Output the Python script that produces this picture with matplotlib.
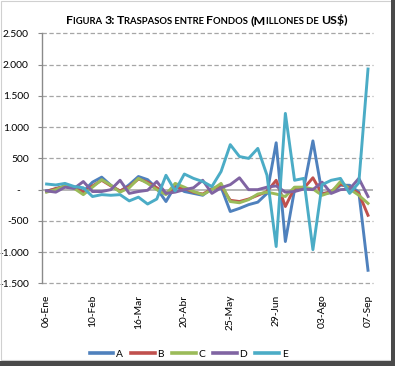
import matplotlib
matplotlib.use("Agg")
import matplotlib.pyplot as plt
from matplotlib.patches import Rectangle
from matplotlib.ticker import FuncFormatter

# ---------------- data ----------------
week_labels = ["06-Ene", "10-Feb", "16-Mar", "20-Abr", "25-May", "29-Jun", "03-Ago", "07-Sep"]
label_step = 5

series_names = ["A", "B", "C", "D", "E"]
A = [-20, 10, 60, 40, -30, 120, 200, 70, -30, 80, 210, 160, 20, -190, 60, -30, -60, -90,
     20, 40, -350, -300, -240, -200, -60, 750, -830, 0, 20, 780, -60, -50, 70, 70, -40, -1290]
B = [-30, 20, 50, 30, -40, 60, 150, 60, -20, 50, 170, 120, 30, -60, 40, 20, -40, -70,
     10, 60, -170, -190, -150, -90, -30, 150, -270, 30, 20, 190, -70, -30, 90, 30, -60, -410]
C = [-40, 0, 60, 20, -80, 40, 160, 70, -40, 30, 180, 100, 0, -80, 100, 40, -30, -80,
     0, 100, -190, -210, -160, -70, -40, -70, -110, 40, 40, 10, -90, -40, 130, 10, -90, -220]
D = [-20, -40, 40, 20, 130, -30, -30, 0, 150, -60, -30, -10, 130, -60, -40, 0, 30, 150,
     -60, 30, 80, 190, 0, 0, 40, 60, -40, -30, 10, 0, 120, -60, 0, 10, 180, -110]
E = [90, 75, 100, 50, 30, -110, -80, -90, -80, -180, -120, -230, -150, 230, -20, 250, 180, 130,
     50, 290, 720, 530, 500, 660, 230, -910, 1220, 150, 180, -960, 80, 150, 180, -60, 110, 1930]
colors = ["#4F81BD", "#C0504D", "#9BBB59", "#8064A2", "#4BACC6"]

title = "Figura 3: Traspasos entre Fondos (Millones de US$)"
y_ticks = [-1500, -1000, -500, 0, 500, 1000, 1500, 2000, 2500]

# ---------------- figure ----------------
plt.rcParams['font.family'] = ['Lato', 'DejaVu Sans']
W, H = 395, 366
fig = plt.figure(figsize=(W / 100, H / 100), dpi=100)
fig.patch.set_facecolor("white")

ax = fig.add_axes([42 / W, (H - 283.4) / H, 330.6 / W, 250 / H])
n = len(A)
xs = list(range(n))
for vals, name, col in zip([A, B, C, D, E], series_names, colors):
    ax.plot(xs, vals, color=col, lw=2.1, label=name, zorder=3)

ax.set_xlim(-0.5, n - 0.5)
ax.set_ylim(y_ticks[0], y_ticks[-1])
ax.set_yticks(y_ticks)


def fmt(v, pos):
    v = int(round(v))
    if v == 0:
        return "-   "
    s = f"{abs(v):,}".replace(",", ".")
    return ("-" if v < 0 else "") + s


ax.yaxis.set_major_formatter(FuncFormatter(fmt))
ax.set_xticks(xs[::label_step])
ax.set_xticklabels(week_labels, rotation=90)

for yv in y_ticks:
    if yv == 0:
        continue
    ax.axhline(yv, color="#A6A6A6", lw=0.9, ls=(0, (3.5, 2)), zorder=1, clip_on=False)
ax.axhline(0, color="#B0B0B0", lw=1.3, zorder=2)

for s in ["top", "right", "bottom"]:
    ax.spines[s].set_visible(False)
ax.spines["left"].set_color("#8A8A8A")
ax.spines["left"].set_linewidth(1.0)

ax.tick_params(axis="y", length=3, color="#8A8A8A", pad=6.5, labelsize=7.4, labelcolor="black")
ax.tick_params(axis="x", length=0, pad=8.0, labelsize=7.4, labelcolor="black")

leg = ax.legend(loc="center", bbox_to_anchor=(188.5 / W, 12 / H), bbox_transform=fig.transFigure,
                ncol=5, frameon=False, handlelength=2.3, handletextpad=0.25,
                columnspacing=0.8, fontsize=7.4)
for h in leg.get_lines():
    h.set_linewidth(2.6)

# ---------------- small-caps title ----------------
big, small = 8.9, 6.8
runs = []
for ch in title:
    is_small = ch.islower() or ch == " "
    if runs and runs[-1][1] == is_small:
        runs[-1][0] += ch
    else:
        runs.append([ch, is_small])

fig.canvas.draw()
renderer = fig.canvas.get_renderer()
texts = []
for txt, is_small in runs:
    t = fig.text(0, 0, txt.upper(), fontsize=small if is_small else big, fontweight="bold",
                 ha="left", va="baseline", parse_math=False, color="black")
    texts.append(t)
widths = [t.get_window_extent(renderer).width for t in texts]
total = sum(widths)
x0 = 206.5 - total / 2
yb = H - 24
cur = x0
for t, w in zip(texts, widths):
    t.set_position((cur / W, yb / H))
    cur += w

# ---------------- frame and shadow ----------------
fig.add_artist(Rectangle((0.5 / W, (H - 360) / H), 390 / W, 359 / H, transform=fig.transFigure,
                         fill=False, edgecolor="#D0D0D0", lw=0.8))
fig.add_artist(Rectangle((391 / W, 0), 4 / W, 1, transform=fig.transFigure,
                         facecolor="#4A4A4A", edgecolor="none"))
fig.add_artist(Rectangle((0, 0), 1, 5 / H, transform=fig.transFigure,
                         facecolor="#4A4A4A", edgecolor="none"))

fig.savefig("out.png", dpi=100)
